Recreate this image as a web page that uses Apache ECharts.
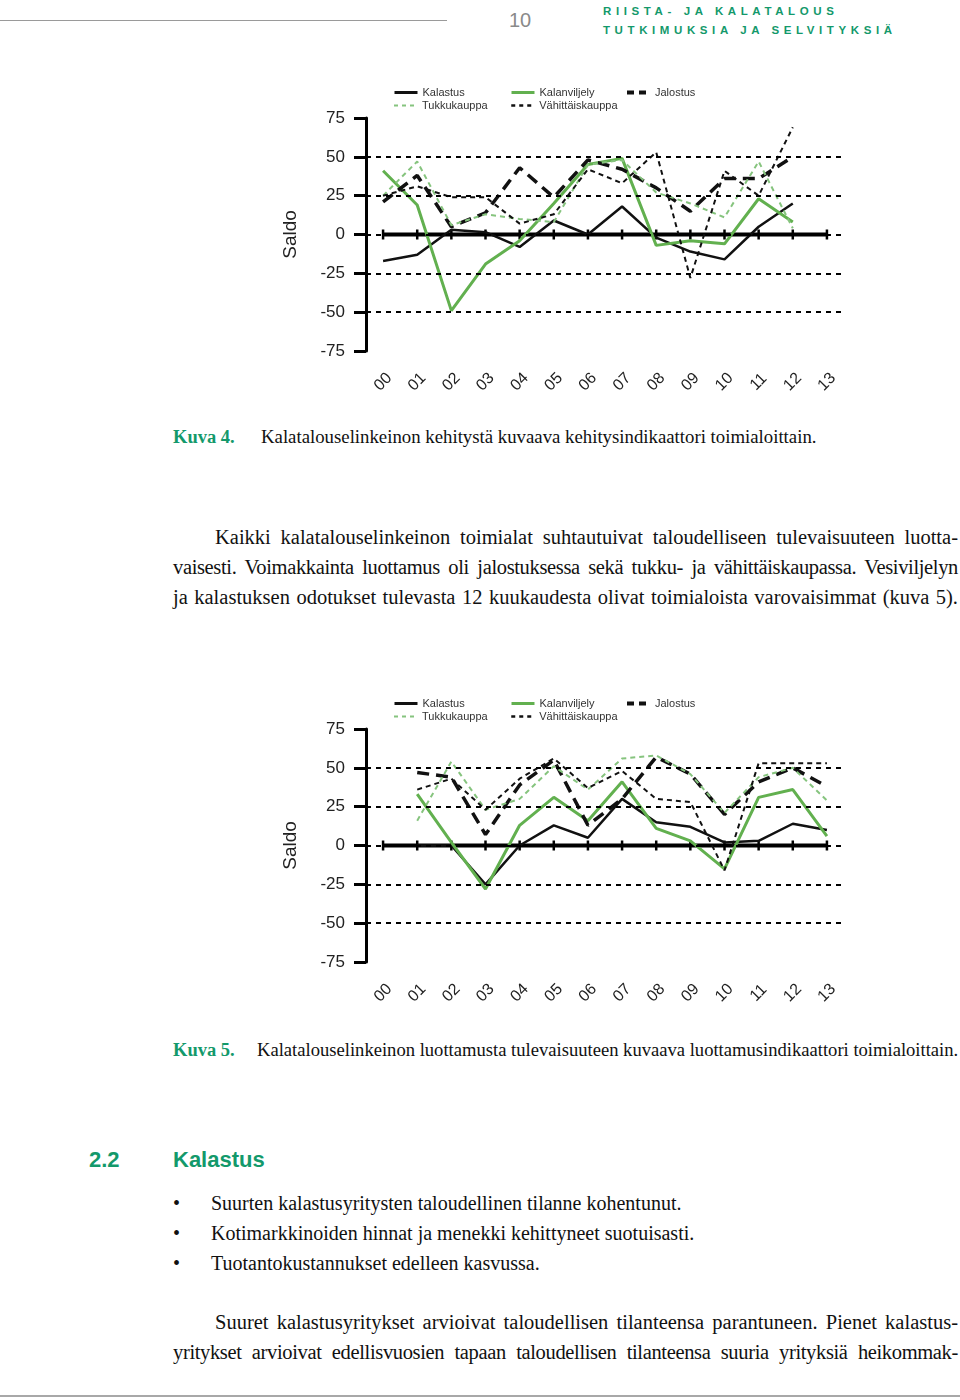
<!DOCTYPE html>
<html><head><meta charset="utf-8">
<script src="https://cdn.jsdelivr.net/npm/echarts@6/dist/echarts.min.js"></script>
<style>
html,body{margin:0;padding:0}
body{width:960px;height:1400px;position:relative;background:#fff;overflow:hidden}
.t{position:absolute;white-space:nowrap}
.serif{font-family:"Liberation Serif","Times New Roman",serif;color:#111}
.j{text-align:justify;text-align-last:justify;white-space:nowrap}
.green{color:#13996b}
.chart{position:absolute;left:0;width:960px;height:350px}
</style>
</head>
<body>
<div style="position:absolute;left:0;top:20px;width:447px;height:1px;background:#9a9a9a"></div>
<div class="t" style="left:509px;top:8px;font:20px 'Liberation Sans Narrow','Liberation Sans',sans-serif;color:#8a8a8a;line-height:24px">10</div>
<div class="t green" style="left:603px;top:3px;font:bold 11.5px 'Liberation Sans',sans-serif;letter-spacing:4.6px;line-height:16px">RIISTA- JA KALATALOUS</div>
<div class="t green" style="left:603px;top:22px;font:bold 11.5px 'Liberation Sans',sans-serif;letter-spacing:4.6px;line-height:16px">TUTKIMUKSIA JA SELVITYKSIÄ</div>

<div id="c1" class="chart" style="top:60px"></div>

<div class="t serif green" style="left:173px;top:425px;font-size:18.5px;font-weight:bold;line-height:24px">Kuva 4.</div>
<div class="t serif" style="left:261px;top:425px;font-size:18.8px;line-height:24px">Kalatalouselinkeinon kehitystä kuvaava kehitysindikaattori toimialoittain.</div>

<div class="t serif j" style="left:215px;top:524px;width:743px;font-size:20.5px;line-height:26px">Kaikki kalatalouselinkeinon toimialat suhtautuivat taloudelliseen tulevaisuuteen luotta-</div>
<div class="t serif j" style="left:173px;top:554px;width:785px;font-size:20.5px;line-height:26px;letter-spacing:-0.35px;word-spacing:-1px">vaisesti. Voimakkainta luottamus oli jalostuksessa sekä tukku- ja vähittäiskaupassa. Vesiviljelyn</div>
<div class="t serif j" style="left:173px;top:584px;width:785px;font-size:20.5px;line-height:26px">ja kalastuksen odotukset tulevasta 12 kuukaudesta olivat toimialoista varovaisimmat (kuva 5).</div>

<div id="c2" class="chart" style="top:671px"></div>

<div class="t serif green" style="left:173px;top:1038px;font-size:18.5px;font-weight:bold;line-height:24px">Kuva 5.</div>
<div class="t serif" style="left:257px;top:1038px;font-size:18.6px;line-height:24px">Kalatalouselinkeinon luottamusta tulevaisuuteen kuvaava luottamusindikaattori toimialoittain.</div>

<div class="t green" style="left:89px;top:1146px;font:bold 22px 'Liberation Sans',sans-serif;line-height:28px">2.2</div>
<div class="t green" style="left:173px;top:1146px;font:bold 22px 'Liberation Sans',sans-serif;line-height:28px">Kalastus</div>

<div class="t serif" style="left:173px;top:1190px;font-size:20px;line-height:26px">•</div>
<div class="t serif" style="left:211px;top:1190px;font-size:20px;line-height:26px">Suurten kalastusyritysten taloudellinen tilanne kohentunut.</div>
<div class="t serif" style="left:173px;top:1220px;font-size:20px;line-height:26px">•</div>
<div class="t serif" style="left:211px;top:1220px;font-size:20px;line-height:26px">Kotimarkkinoiden hinnat ja menekki kehittyneet suotuisasti.</div>
<div class="t serif" style="left:173px;top:1250px;font-size:20px;line-height:26px">•</div>
<div class="t serif" style="left:211px;top:1250px;font-size:20px;line-height:26px">Tuotantokustannukset edelleen kasvussa.</div>

<div class="t serif j" style="left:215px;top:1309px;width:743px;font-size:20.5px;line-height:26px">Suuret kalastusyritykset arvioivat taloudellisen tilanteensa parantuneen. Pienet kalastus-</div>
<div class="t serif j" style="left:173px;top:1339px;width:785px;font-size:20.5px;line-height:26px;letter-spacing:-0.35px;word-spacing:-1px">yritykset arvioivat edellisvuosien tapaan taloudellisen tilanteensa suuria yrityksiä heikommak-</div>

<div style="position:absolute;left:0;top:1395px;width:960px;height:2px;background:#a8a8a8"></div>

<script>
const categories = ['00','01','02','03','04','05','06','07','08','09','10','11','12','13'];
const gridLevels = [50, 25, 0, -25, -50];
const zeroLine = [0,0,0,0,0,0,0,0,0,0,0,0,0,0];

// Kuva 4 – kehitysindikaattori
const c1Kalastus       = [-17, -13, 3, 1.5, -8, 9, 0, 18, -2, -11, -16, 5, 20, null];
const c1Kalanviljely   = [41, 19, -49, -19, -4, 20, 45, 49, -7, -4, -6, 23, 8, null];
const c1Jalostus       = [21, 38, 5, 14, 43, 24, 48, 42, 30, 15, 36, 36, 50, null];
const c1Tukkukauppa    = [25, 47, 6, 13, 10, 8, 45, 48, 27, 20, 11, 47, 4, null];
const c1Vahittais      = [25, 31, 24, 24, 7, 13, 42, 33, 53, -28, 41, 25, 69, null];

// Kuva 5 – luottamusindikaattori
const c2Kalastus       = [null, 0, 0, -25, 0, 13, 5, 30, 15, 12, 2, 3, 14, 10];
const c2Kalanviljely   = [null, 33, 2, -28, 13, 31, 16, 41, 11, 3, -15, 31, 36, 6];
const c2Jalostus       = [null, 47, 44, 7, 39, 55, 13, 30, 57, 46, 20, 41, 50, 38];
const c2Tukkukauppa    = [null, 16, 54, 23, 30, 51, 36, 56, 58, 46, 21, 44, 50, 29];
const c2Vahittais      = [null, 36, 43, 23, 43, 56, 37, 48, 30, 28, -16, 53, 53, 53];

const names = ['Kalastus', 'Kalanviljely', 'Jalostus', 'Tukkukauppa', 'Vähittäiskauppa'];
const styles = [
  {color:'#111', width:2.5, type:'solid'},
  {color:'#62b04f', width:3, type:'solid'},
  {color:'#111', width:3.5, type:[12,7]},
  {color:'#86c47e', width:2, type:[5,4]},
  {color:'#111', width:2, type:[5,4]}
];
const legendLine = [
  {width:3, type:'solid'},
  {width:3, type:'solid'},
  {width:4, type:[7,5]},
  {width:2, type:[4,4]},
  {width:2.5, type:[4,4]}
];
const legendPos = [[393,27],[510,27],[625,27],[393,40],[510,40]];
const FONT = "'Liberation Sans', Arial, sans-serif";

function makeOption(seriesData) {
  const legends = names.map((n, i) => ({
    data: [n], left: legendPos[i][0], top: legendPos[i][1],
    itemWidth: 23, itemHeight: 10, padding: 0,
    itemStyle: {opacity: 0},
    lineStyle: {opacity: 1, width: legendLine[i].width, type: legendLine[i].type, color: styles[i].color},
    textStyle: {fontSize: 11, color: '#333', fontFamily: FONT},
    selectedMode: false
  }));
  const series = [{
    name: '_zero', type: 'line', data: zeroLine, silent: true,
    lineStyle: {color: '#000', width: 4},
    symbol: 'rect', symbolSize: [2.5, 10], itemStyle: {color: '#000'},
    z: 1,
    markLine: {
      silent: true, symbol: 'none', label: {show: false},
      lineStyle: {color: '#000', width: 2, type: [5,5]},
      data: gridLevels.map(v => ({yAxis: v}))
    }
  }];
  seriesData.forEach((d, i) => {
    series.push({
      name: names[i], type: 'line', data: d, symbol: 'none',
      lineStyle: {color: styles[i].color, width: styles[i].width, type: styles[i].type, cap: 'butt'},
      itemStyle: {color: styles[i].color},
      z: 3
    });
  });
  return {
    animation: false,
    legend: legends,
    grid: {left: 366, width: 478, top: 58, height: 233},
    xAxis: {
      type: 'category', data: categories, boundaryGap: true,
      axisLine: {show: false, onZero: false}, axisTick: {show: false},
      axisLabel: {rotate: 45, align: 'center', verticalAlign: 'middle', margin: 31, fontSize: 16, color: '#222', fontFamily: FONT, interval: 0},
      splitLine: {show: false}
    },
    yAxis: {
      type: 'value', min: -75, max: 75, interval: 25,
      name: 'Saldo', nameLocation: 'middle', nameRotate: 90, nameGap: 66,
      nameTextStyle: {fontSize: 19, color: '#222', fontFamily: FONT},
      axisLine: {show: true, lineStyle: {color: '#000', width: 3}},
      axisTick: {show: true, length: 12, lineStyle: {color: '#000', width: 3}},
      axisLabel: {fontSize: 17, color: '#222', margin: 21, fontFamily: FONT},
      splitLine: {show: false}
    },
    series: series
  };
}

const chart1 = echarts.init(document.getElementById('c1'), null, {renderer: 'canvas'});
chart1.setOption(makeOption([c1Kalastus, c1Kalanviljely, c1Jalostus, c1Tukkukauppa, c1Vahittais]));
const chart2 = echarts.init(document.getElementById('c2'), null, {renderer: 'canvas'});
chart2.setOption(makeOption([c2Kalastus, c2Kalanviljely, c2Jalostus, c2Tukkukauppa, c2Vahittais]));
</script>
</body></html>
